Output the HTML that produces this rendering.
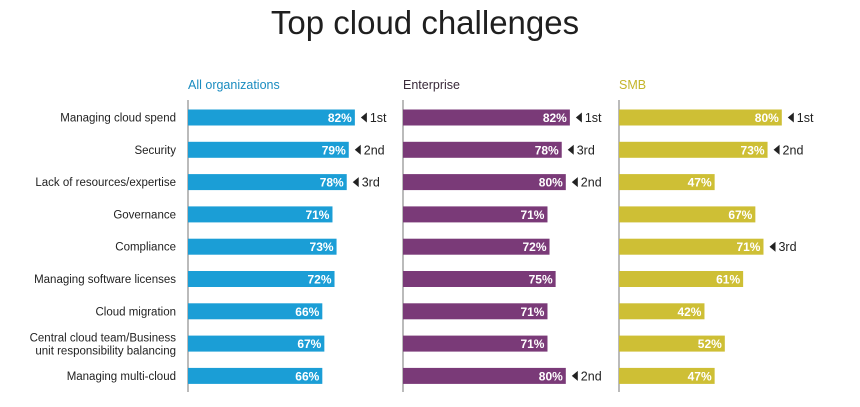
<!DOCTYPE html>
<html><head><meta charset="utf-8">
<style>
body{margin:0;background:#fff;width:860px;height:402px;overflow:hidden;font-family:"Liberation Sans",sans-serif;}
</style></head>
<body>
<svg id="chart" width="860" height="402" xmlns="http://www.w3.org/2000/svg">
<text x="425" y="34" text-anchor="middle" font-size="33" fill="#1f1f1f" font-family="Liberation Sans, sans-serif">Top cloud challenges</text>
</svg>
<script>
const categories = ["Managing cloud spend","Security","Lack of resources/expertise","Governance","Compliance","Managing software licenses","Cloud migration","Central cloud team/Business|unit responsibility balancing","Managing multi-cloud"];
const allOrgValues = [82,79,78,71,73,72,66,67,66];
const enterpriseValues = [82,78,80,71,72,75,71,71,80];
const smbValues = [80,73,47,67,71,61,42,52,47];
const allOrgRanks = ["1st","2nd","3rd","","","","","",""];
const enterpriseRanks = ["1st","3rd","2nd","","","","","","2nd"];
const smbRanks = ["1st","2nd","","","3rd","","","",""];
const panelTitles = ["All organizations","Enterprise","SMB"];

const svg = document.getElementById('chart');
const NS = 'http://www.w3.org/2000/svg';
const panels = [
  {x0:188, vals:allOrgValues, ranks:allOrgRanks, color:'#1b9ed6', head:'#1a8cc0', name:'all-organizations'},
  {x0:403, vals:enterpriseValues, ranks:enterpriseRanks, color:'#7a3a78', head:'#3a2a3a', name:'enterprise'},
  {x0:619, vals:smbValues, ranks:smbRanks, color:'#cebf35', head:'#c4b52a', name:'smb'}
];
const pxPer = 2.035;
function yCenter(i){ return 117.5 + i*32.3; }
function xScale(p, v){ return p.x0 + v*pxPer; }
function mk(tag, attrs){ const e=document.createElementNS(NS,tag); for(const k in attrs) e.setAttribute(k, attrs[k]); svg.appendChild(e); return e; }

categories.forEach((c,i)=>{
  const parts = c.split('|');
  const t = mk('text',{x:176, 'text-anchor':'end', 'font-size':'11.5', fill:'#222'});
  
  
  if(parts.length===1){ t.setAttribute('y', yCenter(i)+4); t.textContent=c; }
  else {
    t.setAttribute('y', yCenter(i)-2);
    parts.forEach((s,k)=>{ const ts=document.createElementNS(NS,'tspan'); ts.setAttribute('x',176); ts.setAttribute('dy', k===0?0:13); ts.textContent=s; t.appendChild(ts); });
  }
});

panels.forEach((p,pi)=>{
  const h = mk('text',{x:p.x0, y:89, 'font-size':'12.5', fill:p.head});
  
  
  h.textContent = panelTitles[pi];
  const ax = mk('line',{x1:p.x0, x2:p.x0, y1:100, y2:392, stroke:'#777', 'stroke-width':1});
  
  
  p.vals.forEach((v,i)=>{
    const yc = yCenter(i);
    const xe = xScale(p, v);
    const r = mk('rect',{x:p.x0, y:yc-8, width:xe-p.x0, height:16, fill:p.color});
    
    
    const lt = mk('text',{x:xe-3, y:yc+4.5, 'text-anchor':'end', 'font-size':'12', 'font-weight':'bold', fill:'#fff'});
    
    
    lt.textContent = v+'%';
    const rk = p.ranks[i];
    if(rk){
      const tri = mk('polygon',{points:`${xe+6},${yc} ${xe+12},${yc-5} ${xe+12},${yc+5}`, fill:'#222'});
      
      
      const rt = mk('text',{x:xe+15, y:yc+4.5, 'font-size':'12.5', fill:'#222'});
      
      
      rt.textContent = rk;
    }
  });
});
</script>
</body></html>
